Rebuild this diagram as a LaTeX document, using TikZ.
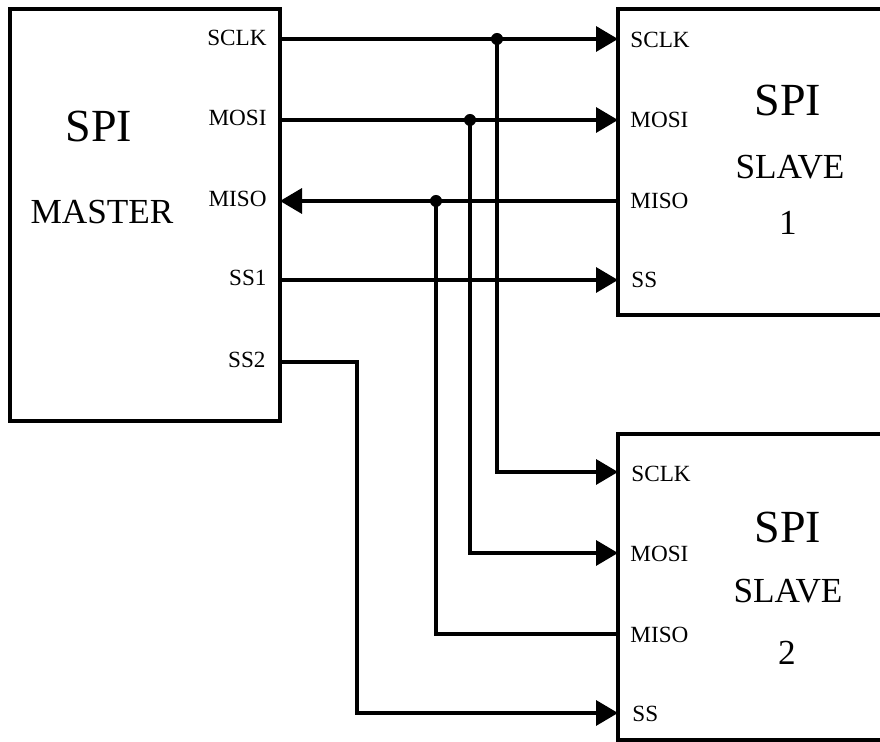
\documentclass[tikz,border=0pt]{standalone}
\usepackage{fontspec}
\setmainfont{Liberation Serif}
\usetikzlibrary{arrows.meta,positioning,calc}
\definecolor{wire}{HTML}{000000}
\tikzset{
  bloc/.style={rectangle, draw=wire, line width=2pt, inner sep=0pt},
  pin/.style={font=\fontsize{11.6}{12}\selectfont, inner sep=0pt},
  titre/.style={font=\fontsize{23}{24}\selectfont, inner sep=0pt},
  sous/.style={font=\fontsize{17.6}{18}\selectfont, inner sep=0pt},
  fil/.style={line width=1.75pt, draw=wire},
  arr/.style={fil, -{Triangle[length=11pt,width=12.5pt]}},
  joint/.style={circle, fill=wire, inner sep=0pt, minimum size=6pt},
}

\begin{document}
\begin{tikzpicture}[x=0.5pt,y=-0.5pt]
    \useasboundingbox (0,0) rectangle (880,742);
    \clip (0,0) rectangle (880,742);
    \node[bloc, minimum width=135pt, minimum height=206pt] (master) at (145,215) {};
    \node[bloc, minimum width=150pt, minimum height=153pt] (slave1) at (768,162) {};
    \node[bloc, minimum width=150pt, minimum height=153pt] (slave2) at (768,587) {};
    \node[titre] (mtitre) at (99,127) {SPI};
    \node[sous] (mnom) at (102,212) {MASTER};
    \node[titre] (s1titre) at (788,101) {SPI};
    \node[sous] (s1nom) at (790,167) {SLAVE};
    \node[sous] (s1num) at (788,223) {1};
    \node[titre] (s2titre) at (788,528) {SPI};
    \node[sous] (s2nom) at (788,591) {SLAVE};
    \node[sous] (s2num) at (787,653) {2};
    \coordinate (m-sclk) at (280,39);
    \coordinate (m-mosi) at (280,120);
    \coordinate (m-miso) at (280,201);
    \coordinate (m-ss1) at (280,280);
    \coordinate (m-ss2) at (280,362);
    \coordinate (b-ss2) at (357,362);
    \coordinate (s1-sclk) at (618,39);
    \coordinate (s1-mosi) at (618,120);
    \coordinate (s1-miso) at (618,201);
    \coordinate (s1-ss) at (618,280);
    \coordinate (s2-sclk) at (618,472);
    \coordinate (s2-mosi) at (618,553);
    \coordinate (s2-miso) at (618,634);
    \coordinate (s2-ss) at (618,713);
    \node[pin, anchor=east] (lm-sclk) at (267,38) {SCLK};
    \node[pin, anchor=east] (lm-mosi) at (267,118) {MOSI};
    \node[pin, anchor=east] (lm-miso) at (267,199) {MISO};
    \node[pin, anchor=east] (lm-ss1) at (267,278) {SS1};
    \node[pin, anchor=east] (lm-ss2) at (266,360) {SS2};
    \node[pin, anchor=west] (l1-sclk) at (630,40) {SCLK};
    \node[pin, anchor=west] (l1-mosi) at (630,120) {MOSI};
    \node[pin, anchor=west] (l1-miso) at (630,201) {MISO};
    \node[pin, anchor=west] (l1-ss) at (631,280) {SS};
    \node[pin, anchor=west] (l2-sclk) at (631,474) {SCLK};
    \node[pin, anchor=west] (l2-mosi) at (630,554) {MOSI};
    \node[pin, anchor=west] (l2-miso) at (630,635) {MISO};
    \node[pin, anchor=west] (l2-ss) at (632,714) {SS};
    \node[joint] (d-sclk) at (497,39) {};
    \node[joint] (d-mosi) at (470,120) {};
    \node[joint] (d-miso) at (436,201) {};
    \draw[arr] (m-sclk) -- (s1-sclk);
    \draw[arr] (m-mosi) -- (s1-mosi);
    \draw[arr] (s1-miso) -- (m-miso);
    \draw[arr] (m-ss1) -- (s1-ss);
    \draw[arr] (d-sclk.center) |- (s2-sclk);
    \draw[arr] (d-mosi.center) |- (s2-mosi);
    \draw[fil] (d-miso.center) |- (s2-miso);
    \draw[arr] (m-ss2) -- (b-ss2) |- (s2-ss);
  \end{tikzpicture}
\end{document}
